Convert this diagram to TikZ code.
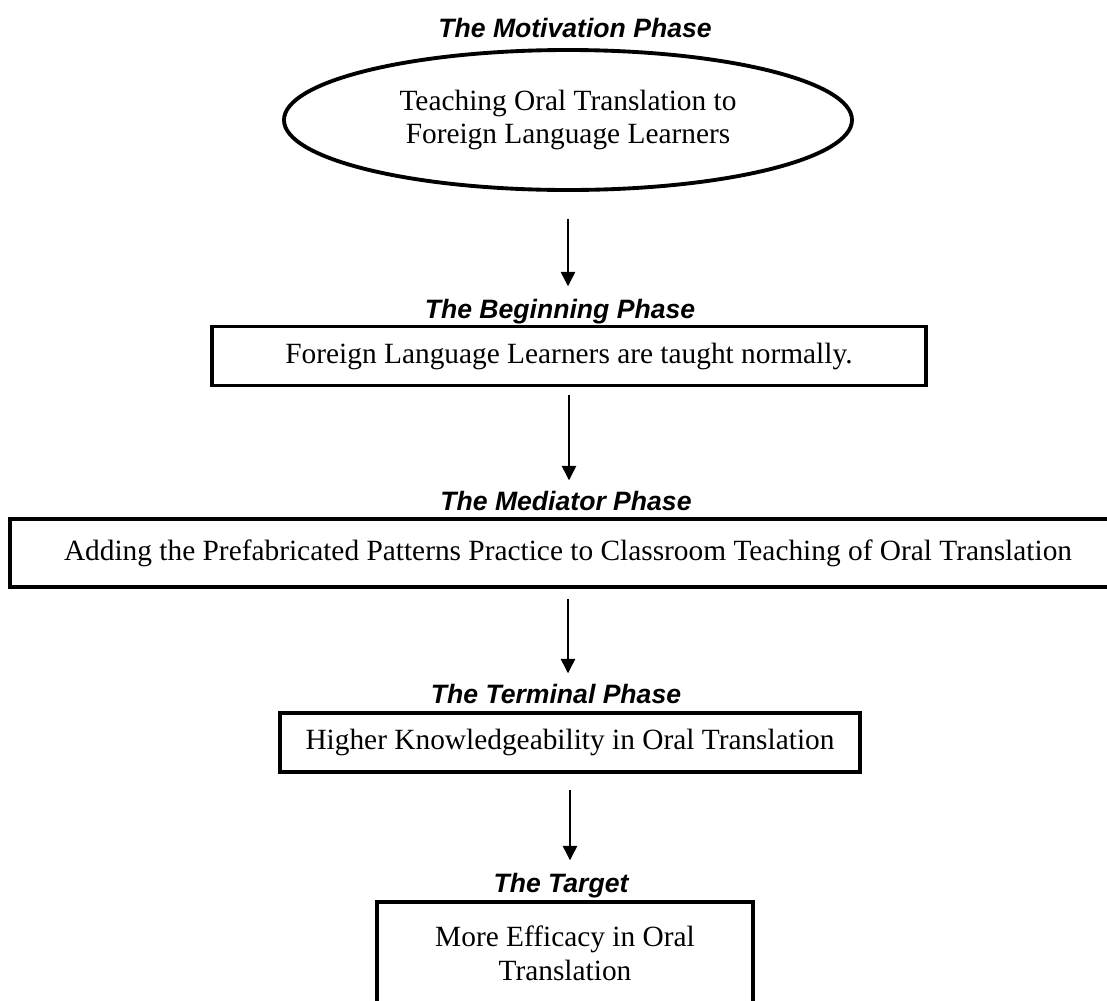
\documentclass[tikz,border=0pt]{standalone}
\usepackage{fontspec}
\setmainfont{Liberation Serif}
\newfontfamily\phasefont{Liberation Sans}
\usetikzlibrary{shapes.geometric,arrows.meta,positioning}
\def\pxu{0.4138pt}

\begin{document}
\begin{tikzpicture}[x=\pxu, y=-\pxu,
    phase/.style={font=\phasefont\bfseries\itshape\fontsize{11}{13}\selectfont,
        anchor=base, inner sep=0pt},
    stagebox/.style={rectangle, draw, line width=1.6pt, align=center,
        font=\fontsize{12.15}{13.8}\selectfont, inner sep=0pt},
    arr/.style={-{Triangle[length=6pt,width=6pt]}, line width=0.6pt}
]
    \useasboundingbox (0,0) rectangle (1107,1001);
    \clip (0,0) rectangle (1107,1001);

    \node[ellipse, draw, line width=1.6pt, align=center, inner sep=0pt,
        font=\fontsize{12.15}{13.8}\selectfont,
        minimum width=568*\pxu, minimum height=140*\pxu] (motiv) at (568,120)
        {Teaching Oral Translation to\\Foreign Language Learners};
    \node[stagebox, minimum width=714*\pxu, minimum height=59*\pxu] (begin) at (569,356)
        {Foreign Language Learners are taught normally.};
    \node[stagebox, minimum width=1116*\pxu, minimum height=68*\pxu] (mediat) at (568,553)
        {Adding the Prefabricated Patterns Practice to Classroom Teaching of Oral Translation};
    \node[stagebox, minimum width=580*\pxu, minimum height=59*\pxu] (termin) at (570,742.5)
        {Higher Knowledgeability in Oral Translation};
    \node[stagebox, minimum width=376*\pxu, minimum height=116*\pxu,
        text depth=14*\pxu] (target) at (565,960)
        {More Efficacy in Oral\\Translation};

    \node[phase] (tmotiv) at (575,37) {The Motivation Phase};
    \node[phase] (tbegin) at (560,318) {The Beginning Phase};
    \node[phase] (tmediat) at (566,510) {The Mediator Phase};
    \node[phase] (ttermin) at (556,703) {The Terminal Phase};
    \node[phase] (ttarget) at (561,892) {The Target};

    \draw[arr, shorten <=27*\pxu, shorten >=12*\pxu] (motiv.south) -- (motiv.south |- tbegin.north);
    \draw[arr, shorten <=8*\pxu, shorten >=10*\pxu] (begin.south) -- (begin.south |- tmediat.north);
    \draw[arr, shorten <=10*\pxu, shorten >=10*\pxu] (mediat.south) -- (mediat.south |- ttermin.north);
    \draw[arr, shorten <=16*\pxu, shorten >=12*\pxu] (termin.south) -- (termin.south |- ttarget.north);
\end{tikzpicture}
\end{document}
